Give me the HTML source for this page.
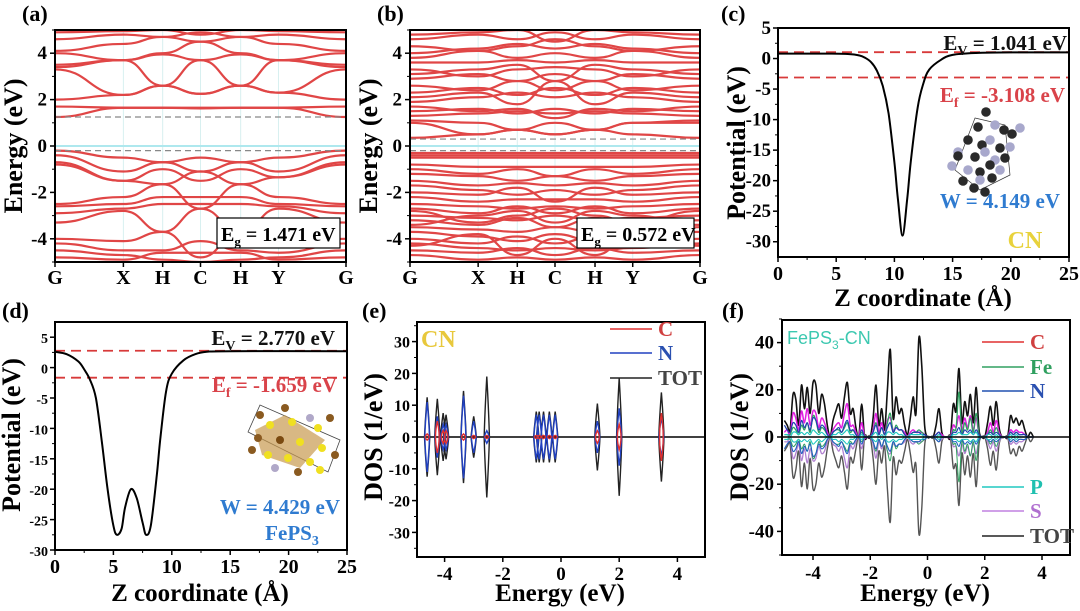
<!DOCTYPE html>
<html><head><meta charset="utf-8"><style>
body{margin:0;background:#fff}
svg{display:block;font-family:"Liberation Serif",serif;font-weight:bold}
</style></head><body>
<svg id="fig" width="1080" height="611" viewBox="0 0 1080 611" xmlns="http://www.w3.org/2000/svg">
<defs>
<clipPath id="ca"><rect x="55" y="30" width="291" height="233"/></clipPath>
<clipPath id="cb"><rect x="410" y="30" width="290" height="232"/></clipPath>
</defs>
</svg>
<script>
const kLabels=["G","X","H","C","H","Y","G"];
const kFrac=[0,0.235,0.37,0.5,0.638,0.768,1];
// panel (a) band energies at G,X,H,C,H,Y,G
const bandsA=[
[1.25,1.65,1.65,1.65,1.65,1.65,1.25],[1.7,1.65,1.65,1.62,1.65,1.65,1.7],
[2.0,2.2,2.6,2.25,2.6,2.3,2.0],[3.3,2.2,2.6,3.7,2.6,2.3,3.3],
[3.4,3.7,2.6,2.25,2.6,3.7,3.4],[3.5,3.7,3.95,3.7,3.95,3.7,3.5],
[4.0,3.7,4.0,4.5,4.0,3.7,4.0],[4.1,4.4,4.7,4.5,4.7,4.4,4.1],
[4.6,4.8,4.7,4.9,4.7,4.8,4.6],[4.9,4.95,5.0,4.8,5.0,4.95,4.9],
[-0.2,-0.5,-0.7,-0.5,-0.7,-0.5,-0.2],[-0.4,-1.1,-0.7,-1.1,-0.7,-1.1,-0.4],
[-0.7,-1.5,-1.65,-1.1,-1.65,-1.35,-0.7],[-0.8,-1.5,-1.0,-1.5,-1.0,-1.35,-0.8],
[-2.5,-2.2,-1.65,-2.7,-1.65,-2.2,-2.5],[-2.6,-2.5,-2.2,-2.2,-2.2,-2.5,-2.6],
[-2.9,-2.7,-2.5,-2.5,-2.5,-2.6,-2.9],[-3.3,-2.8,-3.7,-2.7,-3.7,-2.7,-3.3],
[-4.0,-4.1,-3.7,-4.8,-3.7,-4.1,-4.0],[-4.2,-4.5,-4.5,-4.1,-4.5,-4.6,-4.2],
[-4.5,-4.7,-4.9,-5.0,-4.9,-4.8,-4.5],[-4.8,-4.9,-4.6,-4.6,-4.6,-4.9,-4.8]];
// panel (b) band energies
const bandsB=[
[0.35,0.5,0.7,0.5,0.7,0.5,0.35],[1.0,0.5,0.7,1.0,0.7,1.0,1.0],[1.1,1.0,0.7,0.5,0.7,1.0,1.1],
[1.3,1.4,1.5,1.4,1.5,1.4,1.3],[1.5,1.6,1.4,1.6,1.4,1.6,1.5],[1.7,1.5,1.6,1.2,1.6,1.5,1.7],
[1.9,2.1,2.3,2.1,2.3,2.1,1.9],[2.1,2.3,1.8,2.8,1.8,2.3,2.1],[2.3,2.5,2.2,2.5,2.2,2.5,2.3],
[2.6,2.4,2.8,2.4,2.8,2.4,2.6],[2.9,3.1,2.8,3.1,2.8,3.1,2.9],[3.1,3.3,3.5,2.8,3.5,3.3,3.1],
[3.3,3.0,3.3,3.4,3.3,3.0,3.3],[3.6,3.6,3.7,3.6,3.7,3.6,3.6],[3.8,4.1,3.8,4.0,3.8,4.1,3.8],
[4.0,4.2,4.4,4.2,4.4,4.2,4.0],[4.3,4.1,4.3,4.6,4.3,4.1,4.3],[4.6,4.8,4.6,4.9,4.6,4.8,4.6],
[4.8,4.9,5.0,4.5,5.0,4.9,4.8],
[-0.3,-0.3,-0.3,-0.3,-0.3,-0.3,-0.3],[-0.4,-0.4,-0.4,-0.4,-0.4,-0.4,-0.4],[-0.5,-0.5,-0.5,-0.5,-0.5,-0.5,-0.5],
[-0.8,-0.9,-0.9,-0.9,-0.9,-0.9,-0.8],[-1.0,-1.2,-1.0,-1.3,-1.0,-1.2,-1.0],[-1.2,-1.3,-1.5,-1.3,-1.5,-1.3,-1.2],
[-1.5,-1.7,-1.6,-1.7,-1.6,-1.7,-1.5],[-1.7,-1.9,-2.1,-1.9,-2.1,-1.9,-1.7],[-2.0,-2.1,-1.8,-2.4,-1.8,-2.1,-2.0],
[-2.2,-2.4,-2.3,-2.3,-2.3,-2.4,-2.2],[-2.5,-2.6,-2.7,-2.6,-2.7,-2.6,-2.5],[-2.7,-2.9,-2.6,-2.9,-2.6,-2.9,-2.7],
[-3.0,-3.1,-3.2,-3.0,-3.2,-3.1,-3.0],[-3.2,-3.4,-3.1,-3.5,-3.1,-3.4,-3.2],[-3.5,-3.6,-3.7,-3.5,-3.7,-3.6,-3.5],
[-3.7,-3.9,-4.1,-3.8,-4.1,-3.9,-3.7],[-4.0,-4.2,-3.9,-4.2,-3.9,-4.2,-4.0],[-4.2,-4.4,-4.5,-4.4,-4.5,-4.4,-4.2],
[-4.5,-4.6,-4.4,-4.7,-4.4,-4.6,-4.5],[-4.7,-4.9,-4.8,-4.9,-4.8,-4.9,-4.7],[-3.4,-3.0,-2.8,-3.3,-2.8,-3.0,-3.4],
[-4.3,-3.8,-4.7,-4.0,-4.7,-3.8,-4.3],[-2.8,-3.3,-3.0,-2.7,-3.0,-3.3,-2.8]];
// panel (c) potential
const zC=[0,2,4,6,7,7.5,8,8.5,9,9.5,10,10.3,10.7,11.1,11.4,12,12.5,13,14,15,17,20,25];
const vC=[0.8,0.8,0.8,0.75,0.5,0.1,-0.6,-2,-4.5,-9,-17,-23,-29,-23,-17,-8,-4,-1.8,-0.2,0.6,0.9,1.0,1.0];
const levelsC=[1.041,-3.108];
// panel (d) potential
const zD=[0,1,2,2.5,3,3.5,4,4.5,5,5.3,5.7,6,6.5,7,7.5,7.8,8.2,8.7,9,9.5,10,11,12,13,15,25];
const vD=[2.6,2.2,1.0,-0.3,-2,-5,-12,-20,-26,-27.5,-26.5,-23,-20,-21.5,-25.5,-27.5,-26,-18,-12,-4,-1,1.2,2.2,2.6,2.7,2.7];
const levelsD=[2.770,-1.659];
// panel (e) DOS peaks
const peakE=[-4.6,-4.25,-4.05,-3.95,-3.35,-3.0,-2.55,-0.85,-0.75,-0.6,-0.4,-0.2,1.25,2.0,3.45];
const totE=[12.5,12,7.5,7,14.5,6.5,19,8,8,8,8,8,10.5,18.5,14];
const nE=[11,6.5,4,4,13,5,2,7,7,7,7,7,5,9,6];
const cE=[1,5,2,2,1,0.5,0.5,0.5,0.5,0.5,0.5,0.5,2,4,7.5];
// panel (f) DOS, energies -5.0..3.7 step 0.1
const eF0=-5.0, eFstep=0.1;
const totUpF=[7,5,3,18,16,5,22,12,21,10,23,22,10,18,14,5,0,7,11,14,8,17,23,10,12,4,0,14,0,0,0,8,22,5,12,3,20,37,8,17,10,12,5,1,8,17,10,42,30,5,0,0,0,5,12,2,0,0,0,14,11,29,6,15,9,18,6,21,3,0,0,6,13,5,15,4,0,0,0,9,6,8,5,7,3,0,2,0];
const totDnF=[6,4,3,17,14,6,21,11,22,9,22,20,11,17,13,5,0,6,10,13,8,15,22,9,11,5,0,14,0,0,0,9,20,6,11,4,22,36,9,16,10,11,6,1,7,15,12,41,30,4,0,0,0,5,11,2,0,0,0,13,12,29,7,16,8,17,7,21,3,0,0,5,12,6,14,3,0,0,0,7,5,8,4,6,3,0,2,0];
const sUpF=[2,3,1,10,8,3,11,6,12,5,11,10,4,8,6,2,0,3,5,6,4,10,14,5,5,2,0,6,0,0,0,3,10,2,6,1,7,8,3,4,3,3,2,0,2,3,2,2,2,1,0,0,0,1,2,1,0,0,0,5,4,9,3,8,4,9,3,8,1,0,0,2,6,2,7,2,0,0,0,3,2,3,2,2,1,0,0,0];
const sDnF=[2,2,1,9,7,3,10,5,11,5,10,9,4,7,6,2,0,3,4,6,4,9,13,4,5,2,0,5,0,0,0,3,9,2,5,1,6,7,3,4,3,3,2,0,2,3,2,2,2,1,0,0,0,1,2,1,0,0,0,4,4,8,3,7,4,8,3,7,1,0,0,2,5,2,6,2,0,0,0,3,2,3,2,2,1,0,0,0];
const feUpF=[1,1,1,4,3,1,5,3,6,2,9,7,2,4,3,1,0,2,3,3,2,4,6,2,3,1,0,2,0,0,0,2,6,1,4,1,6,10,2,5,3,3,1,0,1,2,2,3,2,1,0,0,0,1,2,0,0,0,0,3,4,19,2,6,3,8,2,10,1,0,0,1,3,1,4,1,0,0,0,2,1,2,1,1,1,0,0,0];
const nUpF=[5,3,2,6,5,2,7,4,6,3,8,7,3,5,4,1,0,2,3,4,2,5,7,3,3,1,0,3,0,0,0,2,5,1,4,1,4,6,2,4,3,3,1,0,1,2,2,2,1,1,0,0,0,1,2,0,0,0,0,2,2,4,1,3,2,3,1,3,1,0,0,1,2,1,2,1,0,0,0,2,1,2,1,1,1,0,0,0];
const pUpF=[1,1,0,2,2,1,2,1,2,1,3,2,1,2,1,0,0,1,1,2,1,2,3,1,1,0,0,1,0,0,0,1,2,0,1,0,2,2,1,2,1,1,0,0,1,1,1,1,1,0,0,0,0,0,1,0,0,0,0,1,1,2,1,1,1,2,1,2,0,0,0,1,1,0,1,0,0,0,0,1,0,1,0,0,0,0,0,0];

const NS="http://www.w3.org/2000/svg";
const svg=document.getElementById('fig');
function mk(tag,attrs,parent){const e=document.createElementNS(NS,tag);for(const k in attrs)e.setAttribute(k,attrs[k]);(parent||svg).appendChild(e);return e;}
function txt(x,y,s,attrs,parent){const t=mk('text',Object.assign({x:x,y:y},attrs||{}),parent);t.innerHTML=s;return t;}
function lin(d0,d1,r0,r1){return v=>r0+(v-d0)*(r1-r0)/(d1-d0);}
function smooth(pts){let d=`M${pts[0][0].toFixed(1)},${pts[0][1].toFixed(1)}`;
  for(let i=0;i<pts.length-1;i++){const p0=pts[Math.max(0,i-1)],p1=pts[i],p2=pts[i+1],p3=pts[Math.min(pts.length-1,i+2)];
    const c1=[p1[0]+(p2[0]-p0[0])/6,p1[1]+(p2[1]-p0[1])/6],c2=[p2[0]-(p3[0]-p1[0])/6,p2[1]-(p3[1]-p1[1])/6];
    d+=` C${c1[0].toFixed(1)},${c1[1].toFixed(1)} ${c2[0].toFixed(1)},${c2[1].toFixed(1)} ${p2[0].toFixed(1)},${p2[1].toFixed(1)}`;}
  return d;}

function axes(name,x0,x1,y0,y1,yT,ySc,yTicks,yFs,yRight,yMinor){
  const g=mk('g',{});
  
  
  yTicks.forEach(v=>{const y=ySc(v);mk('line',{x1:x0-5,x2:x0,y1:y,y2:y,stroke:'#000','stroke-width':1.5},g);
    const t=txt(yRight,y+6,String(v),{'font-size':yFs},g);
    t.setAttribute('text-anchor','end');
    });
  (yMinor||[]).forEach(v=>{const y=ySc(v);mk('line',{x1:x0-3,x2:x0,y1:y,y2:y,stroke:'#000','stroke-width':1},g);});
  return g;
}
function frame(name,x0,x1,y0,y1){const r=mk('rect',{x:x0,y:y0,width:x1-x0,height:y1-y0,fill:'none',stroke:'#000','stroke-width':2});
  }
function label(x,y,s){const t=txt(x,y,s,{'font-size':22});}
function ytitle(x,y,s,fs){const t=txt(0,0,s,{'font-size':fs||26,'text-anchor':'middle',transform:`translate(${x},${y}) rotate(-90)`});
  }
function xtitle(x,y,s){const t=txt(x,y,s,{'font-size':25,'text-anchor':'middle'});}

// ---- band panels
function bandPanel(id,x0,x1,bands,clip,gapLo,gapHi,eg,boxX){
  const y0=30,y1=262;const ys=lin(5,-5,y0,y1);const xs=f=>x0+f*(x1-x0);
  label(x0-33,21,id==='a'?'(a)':'(b)');
  const g=mk('g',{'clip-path':`url(#${clip})`});
  
  kFrac.forEach((f,i)=>{if(i>0&&i<6)mk('line',{x1:xs(f),x2:xs(f),y1:y0,y2:y1,stroke:'#d8f0f0','stroke-width':1},g);});
  mk('line',{x1:x0,x2:x1,y1:ys(0),y2:ys(0),stroke:'#aee8ee','stroke-width':2},g);
  bands.forEach(b=>{let d=`M${xs(kFrac[0])},${ys(b[0])}`;
    for(let i=1;i<b.length;i++){const xa=xs(kFrac[i-1]),xb=xs(kFrac[i]),m=(xb-xa)/2;
      d+=` C${xa+m},${ys(b[i-1])} ${xb-m},${ys(b[i])} ${xb},${ys(b[i])}`;}
    const p=mk('path',{d:d,fill:'none',stroke:'#e04646','stroke-width':2.2},g);
    });
  [gapLo,gapHi].forEach(v=>mk('line',{x1:x0,x2:x1,y1:ys(v),y2:ys(v),stroke:'#888','stroke-width':1.2,'stroke-dasharray':'6,4'},g));
  frame('band-'+id,x0,x1,y0,y1);
  axes('band-'+id,x0,x1,y0,y1,null,ys,[4,2,0,-2,-4],19,x0-8,[5,3,1,-1,-3,-5]);
  kLabels.forEach((l,i)=>{mk('line',{x1:xs(kFrac[i]),x2:xs(kFrac[i]),y1:y1,y2:y1+5,stroke:'#000','stroke-width':1.5});
    const t=txt(xs(kFrac[i]),y1+22,l,{'font-size':20,'text-anchor':'middle'});});
  const bx=mk('g',{});
  mk('rect',{x:boxX,y:218,width:x1-6-boxX,height:30,fill:'#fff',stroke:'#000','stroke-width':1.2},bx);
  txt(boxX+4,241,`E<tspan font-size="13" dy="5">g</tspan><tspan dy="-5"> = ${eg} eV</tspan>`,{'font-size':20},bx);
  ytitle(x0-33,146,'Energy (eV)');
}
bandPanel('a',55,346,bandsA,'ca',-0.2,1.25,'1.471',217);
bandPanel('b',410,700,bandsB,'cb',-0.2,0.3,'0.572',577);

// ---- potential panels
function potPanel(id,x0,x1,y0,y1,vTop,vBot,z,v,lev,yTicks,yFs,yMinor){
  const xs=lin(0,25,x0,x1),ys=lin(vTop,vBot,y0,y1);
  const g=mk('g',{});
  lev.forEach(L=>{const l=mk('line',{x1:x0,x2:x1,y1:ys(L),y2:ys(L),stroke:'#d83a3a','stroke-width':1.8,'stroke-dasharray':'10,6'},g);
    });
  const pts=z.map((zz,i)=>[xs(zz),ys(v[i])]);
  const p=mk('path',{d:smooth(pts),fill:'none',stroke:'#000','stroke-width':2,'stroke-linejoin':'round'},g);
  
  frame('potential-'+id,x0,x1,y0,y1);
  axes('potential-'+id,x0,x1,y0,y1,null,ys,yTicks,yFs,x0-7,yMinor);
  [0,5,10,15,20,25].forEach(t=>{mk('line',{x1:xs(t),x2:xs(t),y1:y1,y2:y1+5,stroke:'#000','stroke-width':1.5});
    const tt=txt(xs(t),y1+23,String(t),{'font-size':20,'text-anchor':'middle'});});
  [2.5,7.5,12.5,17.5,22.5].forEach(t=>mk('line',{x1:xs(t),x2:xs(t),y1:y1,y2:y1+3,stroke:'#000','stroke-width':1}));
  return {xs,ys};
}
label(721,21,'(c)');
potPanel('c',778,1069,28,257,5,-32.5,zC,vC,levelsC,[5,0,-5,-10,-15,-20,-25,-30],19,[2.5,-2.5,-7.5,-12.5,-17.5,-22.5,-27.5]);
ytitle(745,143,'Potential (eV)');
xtitle(923,306,'Z coordinate (Å)');
txt(1067,50,'E<tspan font-size="14" dy="5">V</tspan><tspan dy="-5"> = 1.041 eV</tspan>',{'font-size':21,'text-anchor':'end',fill:'#111'});
txt(1065,102,'E<tspan font-size="14" dy="5">f</tspan><tspan dy="-5"> = -3.108 eV</tspan>',{'font-size':21,'text-anchor':'end',fill:'#d9434a'});
txt(1060,208,'W = 4.149 eV',{'font-size':21,'text-anchor':'end',fill:'#2f7bd0'});
txt(1025,248,'CN',{'font-size':24,'text-anchor':'middle',fill:'#e8d23c'});

label(2,318,'(d)');
potPanel('d',55,347,322,550,7.5,-30,zD,vD,levelsD,[5,0,-5,-10,-15,-20,-25,-30],14,[2.5,-2.5,-7.5,-12.5,-17.5,-22.5,-27.5]);
ytitle(20,435,'Potential (eV)');
xtitle(200,601,'Z coordinate (Å)');
txt(335,345,'E<tspan font-size="14" dy="5">V</tspan><tspan dy="-5"> = 2.770 eV</tspan>',{'font-size':21,'text-anchor':'end',fill:'#111'});
txt(337,392,'E<tspan font-size="14" dy="5">f</tspan><tspan dy="-5"> = -1.659 eV</tspan>',{'font-size':21,'text-anchor':'end',fill:'#d9434a'});
txt(340,514,'W = 4.429 eV',{'font-size':21,'text-anchor':'end',fill:'#2f7bd0'});
txt(292,540,'FePS<tspan font-size="14" dy="5">3</tspan>',{'font-size':21,'text-anchor':'middle',fill:'#2f7bd0'});

// molecule insets (decorative)
const mol=mk('g',{});
mk('path',{d:'M975,118 L1005,125 L1010,175 L980,190 L955,170 Z',fill:'none',stroke:'#333','stroke-width':0.7},mol);
[[986,112,0],[978,127,0],[995,125,1],[1004,130,0],[1020,128,1],[968,140,0],[990,140,1],[1012,134,0],[958,152,1],[982,145,0],[1000,148,0],[1010,147,1],[958,156,0],[975,157,0],[985,152,1],[995,160,1],[1005,158,0],[952,166,1],[968,170,1],[980,172,0],[990,165,0],[1000,170,1],[963,181,0],[980,180,1],[992,178,0],[974,188,0],[985,192,0]].forEach(a=>mk('circle',{cx:a[0],cy:a[1],r:4.8,fill:a[2]?'#a8a8cc':'#2a2a2a'},mol));
const mol2=mk('g',{});
mk('path',{d:'M248,432 L260,405 L340,440 L328,472 Z',fill:'none',stroke:'#444','stroke-width':0.8},mol2);
mk('path',{d:'M255,430 L285,415 L325,440 L300,468 L262,455 Z',fill:'#c89a50',opacity:0.7},mol2);
[[260,415,'#8a5a20'],[285,408,'#8a5a20'],[310,418,'#b0a8c8'],[330,418,'#8a5a20'],[270,425,'#f0e020'],[292,422,'#f0e020'],[318,428,'#f0e020'],[258,438,'#8a5a20'],[280,440,'#7a4a10'],[300,442,'#f0e020'],[322,448,'#f0e020'],[268,455,'#f0e020'],[288,458,'#f0e020'],[310,462,'#f0e020'],[252,450,'#8a5a20'],[275,468,'#b0a8c8'],[298,472,'#8a5a20'],[320,470,'#f0e020'],[335,455,'#8a5a20']].forEach(a=>mk('circle',{cx:a[0],cy:a[1],r:4,fill:a[2]},mol2));

// ---- DOS (e)
label(362,318,'(e)');
(function(){
  const x0=417,x1=705,y0=322,y1=557;const xs=lin(-5,5,x0-1.5,x1+1.5),ys=lin(0,10,437,405.2);
  const g=mk('g',{});
  mk('line',{x1:x0,x2:x1,y1:ys(0),y2:ys(0),stroke:'#000','stroke-width':1.5},g);
  function spikes(h,color,w,name){
    let d='';peakE.forEach((p,i)=>{[1,-1].forEach(s=>{const xa=xs(p-w),xb=xs(p+w),xm=xs(p);
      d+=`M${xa},${ys(0)} Q${xm-2},${ys(s*h[i]*0.4)} ${xm},${ys(s*h[i])} Q${xm+2},${ys(s*h[i]*0.4)} ${xb},${ys(0)} `;});});
    const p=mk('path',{d:d,fill:'none',stroke:color,'stroke-width':1.4},g);
    }
  spikes(totE,'#222',0.09,'tot-dos-line');spikes(nE,'#2040c0',0.08,'n-dos-line');spikes(cE,'#e03030',0.06,'c-dos-line');
  frame('dos-e',x0,x1,y0,y1);
  axes('dos-e',x0,x1,y0,y1,null,ys,[30,20,10,0,-10,-20,-30],16,x0-7,[35,25,15,5,-5,-15,-25,-35]);
  [-4,-2,0,2,4].forEach(t=>{mk('line',{x1:xs(t),x2:xs(t),y1:y1,y2:y1+5,stroke:'#000','stroke-width':1.5});
    const tt=txt(xs(t),y1+23,String(t),{'font-size':19,'text-anchor':'middle'});});
  [[329,'#e03030','C','#d04040'],[353,'#2040c0','N','#2a50b0'],[378,'#222','TOT','#444']].forEach(l=>{
    const lg=mk('g',{});
    mk('line',{x1:610,x2:652,y1:l[0],y2:l[0],stroke:l[1],'stroke-width':1.5},lg);txt(658,l[0]+7,l[2],{'font-size':21,fill:l[3]},lg);});
  txt(421,347,'CN',{'font-size':24,fill:'#e8c83c'});
})();
ytitle(382,437,'DOS (1/eV)');
xtitle(560,601,'Energy (eV)');

// ---- DOS (f)
label(722,318,'(f)');
(function(){
  const x0=782,x1=1070,y0=320,y1=555;const xs=lin(-4,4,813,1042),ys=lin(0,40,437,342.6);
  const g=mk('g',{});
  function series(arr,sign,color,w,name){const pts=arr.map((v,i)=>[xs(eF0+i*eFstep),ys(sign*v)]);
    const p=mk('path',{d:smooth(pts),fill:'none',stroke:color,'stroke-width':w,'stroke-linejoin':'round'},g);
    }
  series(totUpF,1,'#111',1.6,'tot-dos-up');series(totDnF,-1,'#555',1.4,'tot-dos-down');
  series(sUpF,1,'#e020e0',1.5,'s-dos-up');series(sDnF,-1,'#b080d0',1.3,'s-dos-down');
  series(feUpF,1,'#30a060',1.3,'fe-dos-up');series(feUpF,-1,'#30a060',1.0,'fe-dos-down');
  series(nUpF,1,'#2040b0',1.2,'n-dos-up');series(nUpF,-1,'#2060c0',1.1,'n-dos-down');
  series(pUpF,1,'#20c8c0',1.2,'p-dos-up');series(pUpF,-1,'#20c8c0',1.1,'p-dos-down');
  mk('line',{x1:x0,x2:x1,y1:ys(0),y2:ys(0),stroke:'#000','stroke-width':1.4},g);
  frame('dos-f',x0,x1,y0,y1);
  axes('dos-f',x0,x1,y0,y1,null,ys,[40,20,0,-20,-40],19,x0-8,[50,30,10,-10,-30,-50]);
  [-4,-2,0,2,4].forEach(t=>{mk('line',{x1:xs(t),x2:xs(t),y1:y1,y2:y1+5,stroke:'#000','stroke-width':1.5});
    const tt=txt(xs(t),y1+24,String(t),{'font-size':19,'text-anchor':'middle'});});
  [[342,'#e03030','C','#d04040'],[367,'#30a060','Fe','#30a060'],[391,'#2050b0','N','#2a50b0'],[487,'#20c8c0','P','#20c0b0'],[511,'#c080e0','S','#b070d0'],[536,'#222','TOT','#444']].forEach(l=>{
    const lg=mk('g',{});
    mk('line',{x1:982,x2:1024,y1:l[0],y2:l[0],stroke:l[1],'stroke-width':1.5},lg);txt(1030,l[0]+7,l[2],{'font-size':21,fill:l[3]},lg);});
  const t=txt(787,344,'FePS<tspan font-size="12" dy="5">3</tspan><tspan dy="-5">-CN</tspan>',{'font-size':18,fill:'#3cc8b0','font-weight':'normal','font-family':'Liberation Sans, sans-serif'});
  
})();
ytitle(748,437,'DOS (1/eV)');
xtitle(925,601,'Energy (eV)');
</script>
</body></html>
